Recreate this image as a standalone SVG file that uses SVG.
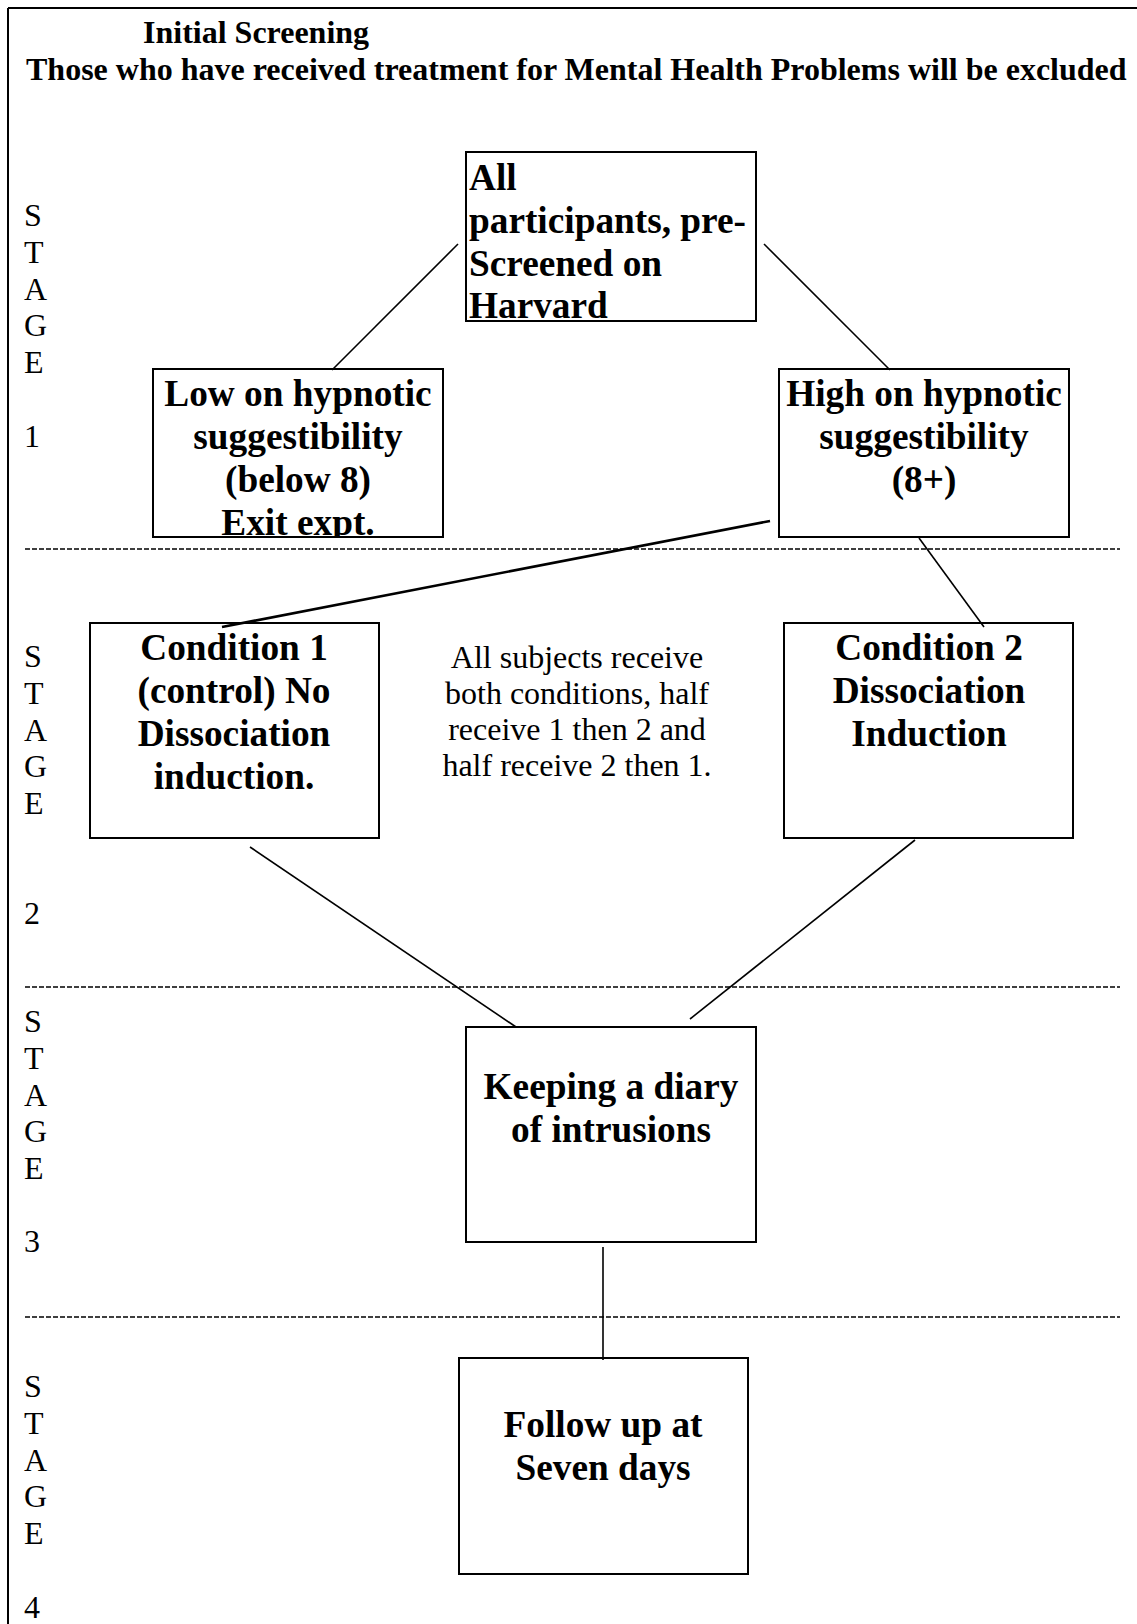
<svg xmlns="http://www.w3.org/2000/svg" width="1137" height="1624" viewBox="0 0 1137 1624">
<style>
.bg{fill:#ffffff}
.frame{stroke:#000;stroke-width:2;fill:none}
.box{fill:#fff;stroke:#000;stroke-width:2}
.sep{stroke:#000;stroke-width:1.6;stroke-dasharray:5 2;fill:none}
.con{stroke:#000;stroke-width:1.6;fill:none}
.con2{stroke:#000;stroke-width:2.6;fill:none}
.head{font-family:"Liberation Serif","Times New Roman",serif;font-weight:bold;font-size:32px;fill:#000}
.stg{font-family:"Liberation Serif","Times New Roman",serif;font-size:32px;fill:#000}
.bt{font-family:"Liberation Serif","Times New Roman",serif;font-weight:bold;font-size:37.3px;fill:#000;text-anchor:middle}
.btl{font-family:"Liberation Serif","Times New Roman",serif;font-weight:bold;font-size:37.3px;fill:#000}
.note{font-family:"Liberation Serif","Times New Roman",serif;font-size:32px;fill:#000;text-anchor:middle}
</style>
<defs>
<clipPath id="clipLow"><rect x="153" y="369" width="290" height="168"/></clipPath>
</defs>
<rect class="bg" x="0" y="0" width="1137" height="1624"/>
<g id="frame">
<line class="frame" x1="8" y1="8" x2="1137" y2="8"/>
<line class="frame" x1="8" y1="8" x2="8" y2="1624"/>
</g>
<g id="heading">
<text class="head" x="143" y="43">Initial Screening</text>
<text class="head" x="26" y="80">Those who have received treatment for Mental Health Problems will be excluded</text>
</g>
<g id="separators">
<line class="sep" x1="25" y1="549" x2="1120" y2="549"/>
<line class="sep" x1="25" y1="987" x2="1120" y2="987"/>
<line class="sep" x1="25" y1="1317" x2="1120" y2="1317"/>
</g>
<g id="stage-labels">
<text class="stg" x="24" y="226">S</text>
<text class="stg" x="24" y="263">T</text>
<text class="stg" x="24" y="300">A</text>
<text class="stg" x="24" y="336">G</text>
<text class="stg" x="24" y="373">E</text>
<text class="stg" x="24" y="447">1</text>
<text class="stg" x="24" y="667">S</text>
<text class="stg" x="24" y="704">T</text>
<text class="stg" x="24" y="741">A</text>
<text class="stg" x="24" y="777">G</text>
<text class="stg" x="24" y="814">E</text>
<text class="stg" x="24" y="924">2</text>
<text class="stg" x="24" y="1032">S</text>
<text class="stg" x="24" y="1069">T</text>
<text class="stg" x="24" y="1106">A</text>
<text class="stg" x="24" y="1142">G</text>
<text class="stg" x="24" y="1179">E</text>
<text class="stg" x="24" y="1252">3</text>
<text class="stg" x="24" y="1397">S</text>
<text class="stg" x="24" y="1434">T</text>
<text class="stg" x="24" y="1471">A</text>
<text class="stg" x="24" y="1507">G</text>
<text class="stg" x="24" y="1544">E</text>
<text class="stg" x="24" y="1618">4</text>
</g>
<g id="node-all-participants">
<rect class="box" x="466" y="152" width="290" height="169"/>
<text class="btl" x="469" y="190">All</text>
<text class="btl" x="469" y="233">participants, pre-</text>
<text class="btl" x="469" y="276">Screened on</text>
<text class="btl" x="469" y="318">Harvard</text>
</g>
<g id="node-low">
<rect class="box" x="153" y="369" width="290" height="168"/>
<g clip-path="url(#clipLow)">
<text class="bt" x="298" y="406">Low on hypnotic</text>
<text class="bt" x="298" y="449">suggestibility</text>
<text class="bt" x="298" y="492">(below 8)</text>
<text class="bt" x="298" y="535">Exit expt.</text>
</g>
<rect x="153" y="369" width="290" height="168" fill="none" stroke="#000" stroke-width="2"/>
</g>
<g id="node-high">
<rect class="box" x="779" y="369" width="290" height="168"/>
<text class="bt" x="924" y="406">High on hypnotic</text>
<text class="bt" x="924" y="449">suggestibility</text>
<text class="bt" x="924" y="492">(8+)</text>
</g>
<g id="node-condition1">
<rect class="box" x="90" y="623" width="289" height="215"/>
<text class="bt" x="234" y="660">Condition 1</text>
<text class="bt" x="234" y="703">(control) No</text>
<text class="bt" x="234" y="746">Dissociation</text>
<text class="bt" x="234" y="789">induction.</text>
</g>
<g id="note-conditions">
<text class="note" x="577" y="668">All subjects receive</text>
<text class="note" x="577" y="704">both conditions, half</text>
<text class="note" x="577" y="740">receive 1 then 2 and</text>
<text class="note" x="577" y="776">half receive 2 then 1.</text>
</g>
<g id="node-condition2">
<rect class="box" x="784" y="623" width="289" height="215"/>
<text class="bt" x="929" y="660">Condition 2</text>
<text class="bt" x="929" y="703">Dissociation</text>
<text class="bt" x="929" y="746">Induction</text>
</g>
<g id="node-diary">
<rect class="box" x="466" y="1027" width="290" height="215"/>
<text class="bt" x="611" y="1099">Keeping a diary</text>
<text class="bt" x="611" y="1142">of intrusions</text>
</g>
<g id="node-followup">
<rect class="box" x="459" y="1358" width="289" height="216"/>
<text class="bt" x="603" y="1437">Follow up at</text>
<text class="bt" x="603" y="1480">Seven days</text>
</g>
<g id="connectors">
<line class="con" x1="458" y1="244" x2="332" y2="370"/>
<line class="con" x1="764" y1="244" x2="890" y2="370"/>
<line class="con2" x1="770" y1="521" x2="222" y2="627"/>
<line class="con" x1="919" y1="538" x2="984" y2="627"/>
<line class="con" x1="250" y1="847" x2="516" y2="1027"/>
<line class="con" x1="915" y1="840" x2="690" y2="1019"/>
<line class="con" x1="603" y1="1247" x2="603" y2="1360"/>
</g>
</svg>
